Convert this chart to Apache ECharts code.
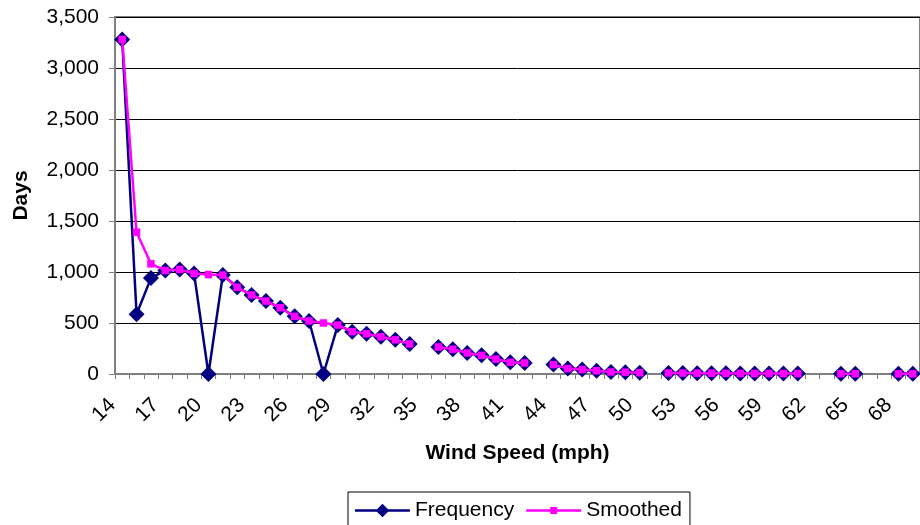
<!DOCTYPE html>
<html>
<head>
<meta charset="utf-8">
<title>Wind Speed Frequency</title>
<script src="https://cdn.jsdelivr.net/npm/echarts@6/dist/echarts.min.js"></script>
<style>
  html, body { margin: 0; padding: 0; background: #ffffff; }
  #chart { width: 920px; height: 525px; }
</style>
</head>
<body>
<div id="chart"></div>
<script>
// Wind speed bins (mph)
const windSpeeds = [
  14, 15, 16, 17, 18, 19, 20, 21, 22, 23, 24, 25, 26, 27, 28, 29, 30, 31, 32, 33,
  34, 35, 36, 37, 38, 39, 40, 41, 42, 43, 44, 45, 46, 47, 48, 49, 50, 51, 52, 53,
  54, 55, 56, 57, 58, 59, 60, 61, 62, 63, 64, 65, 66, 67, 68, 69
];

// Observed number of days per wind speed (null = no observation)
const frequency = [
  3280, 585, 940, 1015, 1025, 985, 0, 970, 850, 775, 715, 650, 565, 520, 0, 480, 415, 395, 365, 335,
  295, null, 265, 242, 206, 183, 146, 115, 108, null, 92, 53, 43, 32, 20, 18, 12, null, 10, 9,
  8, 8, 7, 5, 5, 5, 4, 4, null, null, 3, 3, null, null, 2, 2
];

// Smoothed series: gaps/dips in the raw counts filled in
const smoothed = [
  3280, 1390, 1080, 1015, 1025, 985, 975, 970, 850, 775, 715, 650, 565, 520, 500, 480, 415, 395, 365, 335,
  295, null, 265, 242, 206, 183, 146, 115, 108, null, 92, 53, 43, 32, 20, 18, 12, null, 10, 9,
  8, 8, 7, 5, 5, 5, 4, 4, null, null, 3, 3, null, null, 2, 2
];

const FONT = "'Liberation Sans', Arial, sans-serif";
const NAVY = '#000080';
const MAGENTA = '#FF00FF';

const chart = echarts.init(document.getElementById('chart'), null, { renderer: 'canvas' });

chart.setOption({
  animation: false,
  backgroundColor: '#ffffff',
  textStyle: { fontFamily: FONT, color: '#000' },
  grid: {
    show: true,
    left: 115,
    top: 17,
    width: 812,
    height: 357,
    borderColor: '#808080',
    borderWidth: 2,
    backgroundColor: 'transparent'
  },
  legend: {
    left: 348,
    top: 492,
    padding: [8, 8, 8, 7],
    borderColor: '#000',
    borderWidth: 1,
    itemWidth: 55,
    itemHeight: 14,
    itemGap: 12,
    symbolKeepAspect: true,
    itemStyle: { borderWidth: 0 },
    textStyle: { fontFamily: FONT, fontSize: 21, color: '#000' },
    data: [
      {
        name: 'Frequency',
        icon: 'path://M0,5.75 L55,5.75 L55,8.25 L0,8.25 Z M27.5,0.2 L34.3,7 L27.5,13.8 L20.7,7 Z'
      },
      {
        name: 'Smoothed',
        icon: 'path://M0,5.75 L55,5.75 L55,8.25 L0,8.25 Z M24,3.5 L31,3.5 L31,10.5 L24,10.5 Z'
      }
    ]
  },
  xAxis: {
    type: 'category',
    data: windSpeeds,
    boundaryGap: true,
    name: 'Wind Speed (mph)',
    nameLocation: 'middle',
    nameGap: 69,
    nameTextStyle: { fontFamily: FONT, fontSize: 21, fontWeight: 'bold', color: '#000' },
    axisLine: { show: true, lineStyle: { color: '#808080', width: 2 } },
    axisTick: { show: true, interval: 0, length: 5, inside: false, lineStyle: { color: '#808080', width: 1 } },
    axisLabel: {
      interval: 2,
      rotate: 45,
      margin: 18,
      padding: [0, 14, 0, 0],
      fontFamily: FONT,
      fontSize: 21,
      color: '#000'
    },
    splitLine: { show: false }
  },
  yAxis: {
    type: 'value',
    min: 0,
    max: 3500,
    interval: 500,
    name: 'Days',
    nameLocation: 'middle',
    nameGap: 83,
    nameRotate: 90,
    nameTextStyle: { fontFamily: FONT, fontSize: 21, fontWeight: 'bold', color: '#000' },
    axisLine: { show: true, lineStyle: { color: '#808080', width: 2 } },
    axisTick: { show: true, length: 6, inside: false, lineStyle: { color: '#808080', width: 1 } },
    axisLabel: {
      margin: 16,
      fontFamily: FONT,
      fontSize: 21,
      color: '#000',
      formatter: function (v) { return v.toLocaleString('en-US'); }
    },
    splitLine: { show: true, lineStyle: { color: '#000', width: 1 } }
  },
  series: [
    {
      name: 'Frequency',
      type: 'line',
      data: frequency,
      connectNulls: false,
      symbol: 'diamond',
      symbolSize: 16,
      showAllSymbol: true,
      color: NAVY,
      lineStyle: { color: NAVY, width: 2.5 },
      itemStyle: { color: NAVY, borderWidth: 0 },
      z: 2
    },
    {
      name: 'Smoothed',
      type: 'line',
      data: smoothed,
      connectNulls: false,
      symbol: 'rect',
      symbolSize: 7.5,
      showAllSymbol: true,
      color: MAGENTA,
      lineStyle: { color: MAGENTA, width: 2.5 },
      itemStyle: { color: MAGENTA, borderWidth: 0 },
      z: 3
    }
  ]
});
</script>
</body>
</html>
